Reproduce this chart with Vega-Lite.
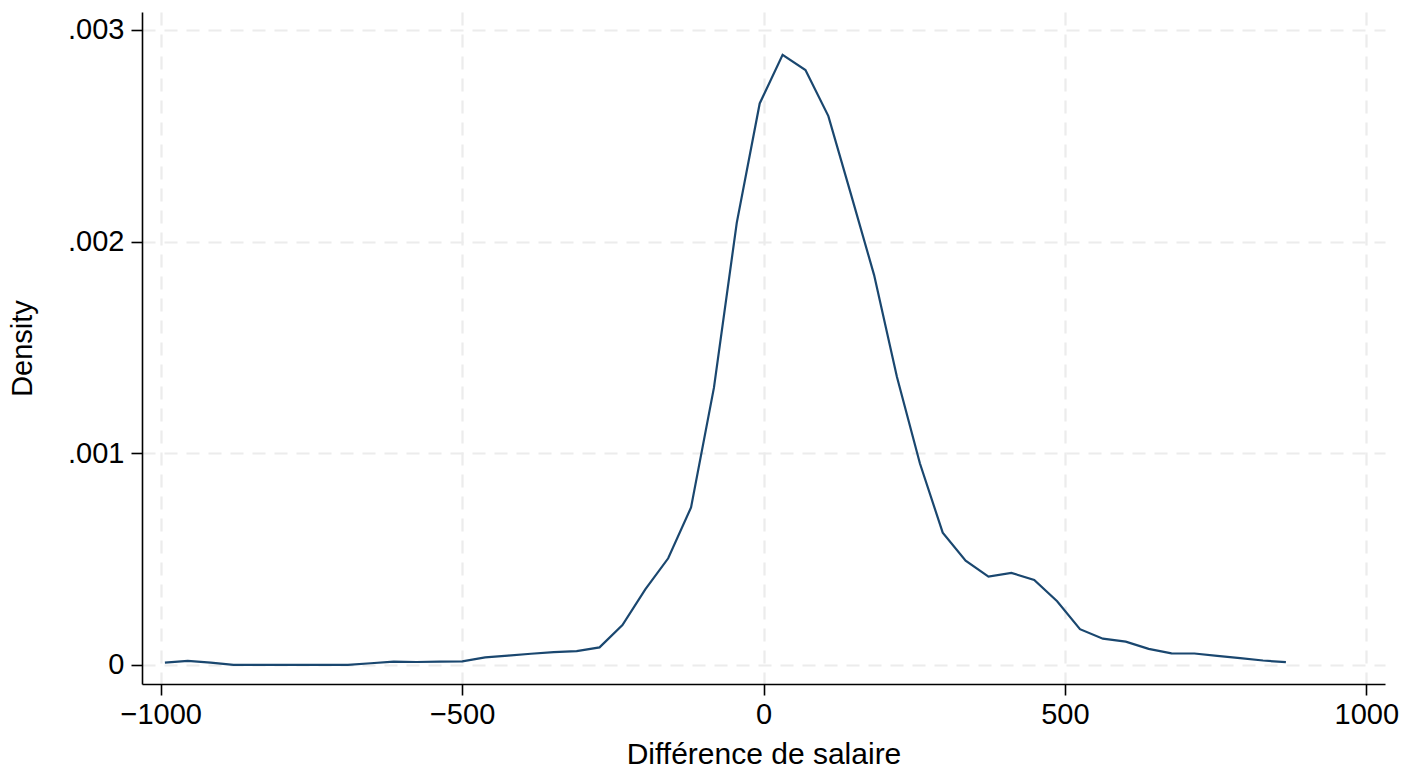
{
  "$schema": "https://vega.github.io/schema/vega-lite/v6.json",
  "width": 1243,
  "height": 672,
  "autosize": "none",
  "padding": {"left": 142, "top": 12, "right": 20, "bottom": 87},
  "background": "white",
  "config": {
    "view": {"stroke": null},
    "font": "Liberation Sans"
  },
  "data": {
    "values": [
      {"x": -993.0, "density": 0.000011},
      {"x": -955.1, "density": 0.000019},
      {"x": -917.1, "density": 0.000011},
      {"x": -879.2, "density": 0.0},
      {"x": -841.2, "density": 0.0},
      {"x": -803.3, "density": 0.0},
      {"x": -765.3, "density": 0.0},
      {"x": -727.4, "density": 0.0},
      {"x": -689.4, "density": 0.0},
      {"x": -651.5, "density": 0.000008},
      {"x": -613.5, "density": 0.000016},
      {"x": -575.6, "density": 0.000014},
      {"x": -537.6, "density": 0.000016},
      {"x": -499.7, "density": 0.000017},
      {"x": -461.7, "density": 0.000036},
      {"x": -423.8, "density": 0.000044},
      {"x": -385.8, "density": 0.000053},
      {"x": -347.9, "density": 0.000061},
      {"x": -309.9, "density": 0.000065},
      {"x": -272.0, "density": 0.000083},
      {"x": -234.0, "density": 0.000188},
      {"x": -196.1, "density": 0.000357},
      {"x": -158.1, "density": 0.000504},
      {"x": -120.2, "density": 0.000744},
      {"x": -82.2, "density": 0.00131},
      {"x": -44.3, "density": 0.00209},
      {"x": -6.3, "density": 0.002653},
      {"x": 31.7, "density": 0.002883},
      {"x": 69.6, "density": 0.002811},
      {"x": 107.6, "density": 0.002593},
      {"x": 145.5, "density": 0.00222},
      {"x": 183.5, "density": 0.001842},
      {"x": 221.4, "density": 0.00136},
      {"x": 259.4, "density": 0.000953},
      {"x": 297.3, "density": 0.000625},
      {"x": 335.3, "density": 0.000493},
      {"x": 373.2, "density": 0.000417},
      {"x": 411.2, "density": 0.000435},
      {"x": 449.1, "density": 0.000402},
      {"x": 487.1, "density": 0.000301},
      {"x": 525.0, "density": 0.000169},
      {"x": 563.0, "density": 0.000124},
      {"x": 600.9, "density": 0.00011},
      {"x": 638.9, "density": 0.000076},
      {"x": 676.8, "density": 0.000055},
      {"x": 714.8, "density": 0.000054},
      {"x": 752.7, "density": 0.000043},
      {"x": 790.7, "density": 0.000032},
      {"x": 828.6, "density": 0.000021},
      {"x": 866.6, "density": 0.000013}
    ]
  },
  "mark": {"type": "line", "color": "#1a476f", "strokeWidth": 2.2, "clip": true},
  "encoding": {
    "x": {
      "field": "x",
      "type": "quantitative",
      "scale": {"domain": [-1031, 1031], "nice": false, "zero": false},
      "axis": {
        "values": [-1000, -500, 0, 500, 1000],
        "format": "d",
        "title": "Différence de salaire",
        "titleFont": "Liberation Sans",
        "titleFontSize": 30,
        "titleFontWeight": "normal",
        "titleColor": "black",
        "titlePadding": 10,
        "labelFont": "Liberation Sans",
        "labelFontSize": 29,
        "labelColor": "black",
        "labelPadding": 5,
        "labelFlush": false,
        "labelOverlap": false,
        "domainColor": "black",
        "domainWidth": 1.6,
        "tickColor": "black",
        "tickWidth": 1.6,
        "tickSize": 11,
        "grid": true,
        "gridColor": "#ececec",
        "gridWidth": 2.2,
        "gridDash": [13, 9]
      }
    },
    "y": {
      "field": "density",
      "type": "quantitative",
      "scale": {"domain": [-0.00009, 0.003085], "nice": false, "zero": false},
      "axis": {
        "values": [0, 0.001, 0.002, 0.003],
        "labelExpr": "datum.value == 0 ? '0' : replace(format(datum.value, '.3f'), '0.', '.')",
        "title": "Density",
        "titleFont": "Liberation Sans",
        "titleFontSize": 29,
        "titleFontWeight": "normal",
        "titleColor": "black",
        "titlePadding": 30,
        "labelFont": "Liberation Sans",
        "labelFontSize": 29,
        "labelColor": "black",
        "labelPadding": 7,
        "labelFlush": false,
        "labelOverlap": false,
        "domainColor": "black",
        "domainWidth": 1.6,
        "tickColor": "black",
        "tickWidth": 1.6,
        "tickSize": 11,
        "grid": true,
        "gridColor": "#ececec",
        "gridWidth": 2.2,
        "gridDash": [13, 9]
      }
    }
  }
}
